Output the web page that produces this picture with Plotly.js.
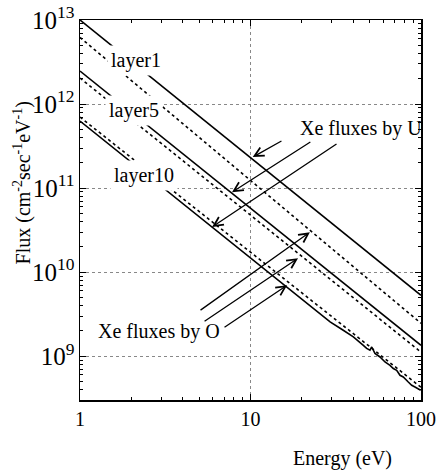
<!DOCTYPE html>
<html>
<head>
<meta charset="utf-8">
<script src="https://cdn.plot.ly/plotly-3.0.1.min.js"></script>
<style>html,body{margin:0;padding:0;background:#fff;}#chart{width:437px;height:474px;}</style>
</head>
<body>
<div id="chart"></div>
<script>
// Energy (eV) sample points
const energy = [1, 2, 5, 10, 20, 50, 100];
// Flux values (cm^-2 sec^-1 eV^-1)
const layer1U = [1.0e13, 3.21e12, 7.18e11, 2.31e11, 7.41e10, 1.66e10, 5.32e9];
const layer1O = [6.2e12, 1.90e12, 4.0e11, 1.23e11, 3.8e10, 8.0e9, 2.47e9];
const layer5U = [2.47e12, 7.98e11, 1.79e11, 5.78e10, 1.87e10, 4.19e9, 1.35e9];
const layer5O = [2.04e12, 6.6e11, 1.48e11, 4.78e10, 1.54e10, 3.46e9, 1.12e9];
const layer10O = [7.0e11, 2.30e11, 5.27e10, 1.73e10, 5.68e9, 1.30e9, 4.28e8];
// layer10 (U) is noisy above ~30 eV
const energy10U = [1, 2, 5, 10, 20, 29.3, 35.0, 40.1, 45.9, 48.0, 50.2, 51.4, 53.7, 57.5, 61.5, 65.8, 68.8, 72.0, 75.3, 78.7, 84.2, 88.2, 92.2, 96.4, 99.6];
const layer10U = [6.28e11, 2.03e11, 4.54e10, 1.47e10, 4.73e9, 2.56e9, 2.04e9, 1.70e9, 1.35e9, 1.24e9, 1.18e9, 1.29e9, 1.08e9, 9.81e8, 8.55e8, 7.81e8, 7.14e8, 6.81e8, 5.94e8, 5.67e8, 4.94e8, 4.52e8, 4.31e8, 4.13e8, 3.94e8];

// Curve labels: text, energy, flux
const labelText = ['layer1', 'layer5', 'layer10'];
const labelE = [2.13, 2.07, 2.37];
const labelF = [3.34e12, 8.5e11, 1.43e11];

// Arrow annotations (tail -> head), energy / flux
const arrowTailE = [15.5, 22.9, 32.6, 4.99, 5.27, 6.90];
const arrowTailF = [3.72e11, 3.63e11, 3.44e11, 3.44e9, 2.54e9, 2.15e9];
const arrowHeadE = [10.3, 7.79, 5.95, 22.3, 19.0, 16.4];
const arrowHeadF = [2.34e11, 8.95e10, 3.44e10, 2.99e10, 1.47e10, 7.0e9];

const serif = "'Liberation Serif', 'Times New Roman', 'DejaVu Serif', serif";
const solid = {color: '#000', width: 1.6, dash: 'solid'};
const dotted = {color: '#000', width: 1.6, dash: 'dot'};

const traces = [
  {x: energy, y: layer1U, mode: 'lines', line: solid},
  {x: energy, y: layer1O, mode: 'lines', line: dotted},
  {x: energy, y: layer5U, mode: 'lines', line: solid},
  {x: energy, y: layer5O, mode: 'lines', line: dotted},
  {x: energy, y: layer10O, mode: 'lines', line: dotted},
  {x: energy10U, y: layer10U, mode: 'lines', line: {color: '#000', width: 1.6}}
];

const L = Math.log10;
const annotations = [];
labelText.forEach((t, i) => annotations.push({
  x: L(labelE[i]), y: L(labelF[i]), xref: 'x', yref: 'y', text: t, showarrow: false,
  bgcolor: '#fff', borderpad: 3, font: {family: serif, size: 20, color: '#000'}
}));
annotations.push({x: L(44.3), y: L(5.18e11), xref: 'x', yref: 'y', text: 'Xe fluxes by U', showarrow: false,
  font: {family: serif, size: 20, color: '#000'}});
annotations.push({x: L(2.89), y: L(1.99e9), xref: 'x', yref: 'y', text: 'Xe fluxes by O', showarrow: false,
  font: {family: serif, size: 20, color: '#000'}});
arrowHeadE.forEach((e, i) => annotations.push({
  x: L(e), y: L(arrowHeadF[i]), xref: 'x', yref: 'y',
  ax: L(arrowTailE[i]), ay: L(arrowTailF[i]), axref: 'x', ayref: 'y',
  text: '', showarrow: true, arrowhead: 5, arrowsize: 1.4, arrowwidth: 1.3, arrowcolor: '#000', standoff: 0
}));
annotations.push({xref: 'paper', yref: 'paper', x: -0.17, y: 0.57, xanchor: 'center', yanchor: 'middle',
  textangle: -90, showarrow: false,
  text: 'Flux (cm<sup>-2</sup>sec<sup>-1</sup>eV<sup>-1</sup>)', font: {family: serif, size: 20, color: '#000'}});
annotations.push({xref: 'paper', yref: 'paper', x: 0.77, y: -0.153, xanchor: 'center', yanchor: 'middle', showarrow: false,
  text: 'Energy (eV)', font: {family: serif, size: 20, color: '#000'}});

const axisCommon = {
  type: 'log', showline: true, linecolor: '#000', linewidth: 1.5, mirror: 'allticks',
  ticks: 'inside', ticklen: 6, tickwidth: 1, tickcolor: '#000', dtick: 1,
  showgrid: true, gridcolor: '#888', gridwidth: 1, griddash: 'dot', zeroline: false,
  tickfont: {family: serif, size: 20, color: '#000'},
  minor: {ticks: 'inside', ticklen: 3, tickcolor: '#000', dtick: 'D1', showgrid: false}
};

const layout = {
  width: 437, height: 474,
  margin: {l: 80, r: 16, t: 20, b: 74},
  paper_bgcolor: '#fff', plot_bgcolor: '#fff',
  font: {family: serif, color: '#000'},
  showlegend: false,
  xaxis: Object.assign({}, axisCommon, {range: [0, 2]}),
  yaxis: Object.assign({}, axisCommon, {range: [8.48, 13], exponentformat: 'power'}),
  annotations: annotations
};

Plotly.newPlot('chart', traces, layout, {displayModeBar: false, staticPlot: true});
</script>
</body>
</html>
